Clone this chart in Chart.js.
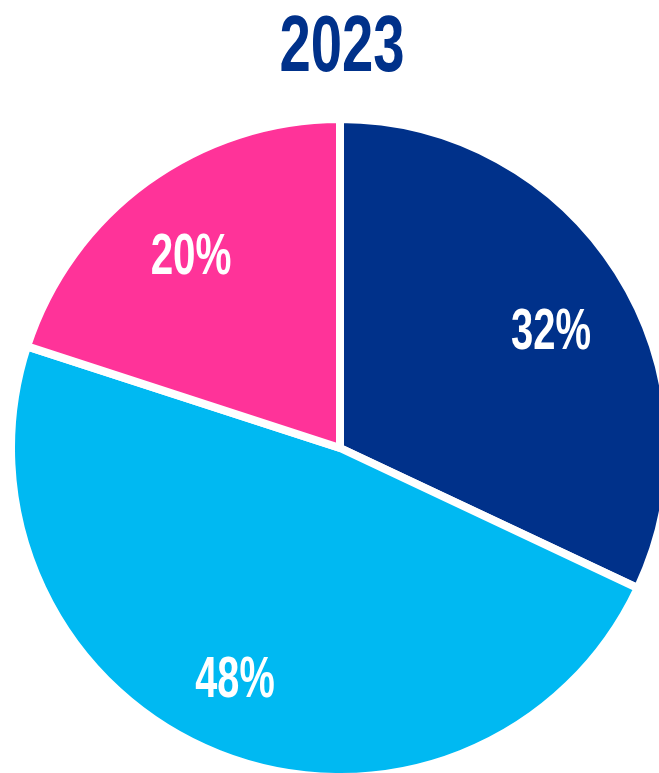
<!DOCTYPE html>
<html>
<head>
<meta charset="utf-8">
<script src="https://cdn.jsdelivr.net/npm/chart.js@4"></script>
<style>
  html, body { margin: 0; padding: 0; background: #fff; overflow: hidden; }
  #wrap { position: absolute; left: 0; top: 0; width: 680px; height: 773px; }
</style>
</head>
<body>
<div id="wrap"><canvas id="pie" width="680" height="773"></canvas></div>
<script>
// — data —
const chartTitle = '2023';
const labels = ['A', 'B', 'C'];
const values = [32, 48, 20];
const colors = ['#00318a', '#00b9f2', '#ff3399'];

const FONT = '"Liberation Sans Narrow", "Arial Narrow", "Liberation Sans", sans-serif';

// condensed text: squeeze horizontally to the wanted width
function narrowText(ctx, txt, x, y, size, color, width) {
  ctx.save();
  ctx.font = 'bold ' + size + 'px ' + FONT;
  ctx.fillStyle = color;
  ctx.textAlign = 'center';
  ctx.textBaseline = 'alphabetic';
  const m = ctx.measureText(txt);
  const w = m.actualBoundingBoxLeft + m.actualBoundingBoxRight;
  ctx.translate(x, y + size * 0.358);
  ctx.scale(width / w, 1);
  ctx.fillText(txt, 0, 0);
  ctx.restore();
}

// small hand nudges so labels sit like in the original
const nudge = [[0, 10], [-13, -8], [-2, 4]];

const titleAndLabels = {
  id: 'titleAndLabels',
  afterDatasetsDraw(chart) {
    const ctx = chart.ctx;
    narrowText(ctx, chartTitle, 342, 42, 80, colors[0], 122);
    const meta = chart.getDatasetMeta(0);
    meta.data.forEach((arc, i) => {
      const p = arc.getProps(['x', 'y', 'startAngle', 'endAngle', 'outerRadius']);
      const mid = (p.startAngle + p.endAngle) / 2;
      const r = p.outerRadius * 0.76;
      const x = p.x + Math.cos(mid) * r + nudge[i][0];
      const y = p.y + Math.sin(mid) * r + 4 + nudge[i][1];
      narrowText(ctx, values[i] + '%', x, y, 58, '#fff', 79);
    });
  }
};

new Chart(document.getElementById('pie'), {
  type: 'pie',
  data: {
    labels: labels,
    datasets: [{
      data: values,
      backgroundColor: colors,
      borderColor: '#fff',
      borderWidth: 8,
      hoverOffset: 0,
      clip: false
    }]
  },
  options: {
    responsive: false,
    animation: false,
    radius: 329,
    layout: { padding: { top: 123 } },
    plugins: {
      legend: { display: false },
      title: { display: false },
      tooltip: { enabled: false }
    }
  },
  plugins: [titleAndLabels]
});
</script>
</body>
</html>
